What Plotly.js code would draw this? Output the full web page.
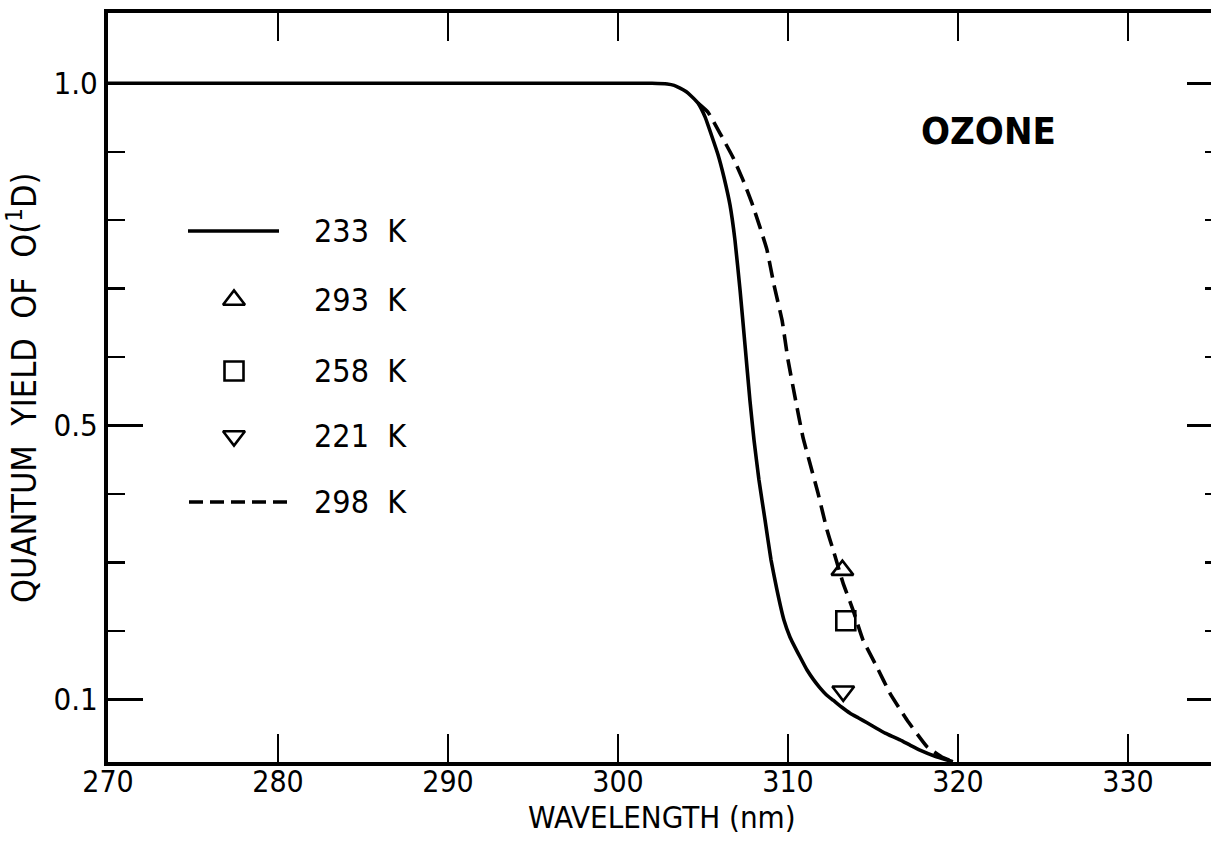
<!DOCTYPE html>
<html>
<head>
<meta charset="utf-8">
<script src="https://cdn.plot.ly/plotly-3.0.1.min.js"></script>
<style>
html,body{margin:0;padding:0;overflow:hidden;background:#fff;width:1211px;height:846px}
#chart{width:1240px;height:846px}
</style>
</head>
<body>
<div id="chart"></div>
<script>
// ---- data ----
const wavelength233 = [270, 280, 290, 300, 302.0, 302.9, 303.3, 303.65, 304.0, 304.24, 304.71, 305.12, 305.53, 305.88, 306.24, 306.59, 306.88, 307.18, 307.47, 307.76, 308.0, 308.29, 308.65, 309.0, 309.35, 309.76, 310.12, 310.71, 311.12, 311.5, 311.88, 312.25, 312.65, 313.15, 313.65, 314.15, 314.65, 315.2, 315.71, 316.59, 317.2, 317.76, 318.65, 319.7];
const yield233 = [1.0, 1.0, 1.0, 1.0, 1.0, 0.999, 0.997, 0.993, 0.988, 0.983, 0.971, 0.951, 0.922, 0.896, 0.862, 0.822, 0.771, 0.698, 0.618, 0.537, 0.479, 0.421, 0.362, 0.304, 0.260, 0.216, 0.191, 0.162, 0.143, 0.129, 0.117, 0.107, 0.099, 0.089, 0.080, 0.073, 0.066, 0.058, 0.051, 0.041, 0.033, 0.026, 0.017, 0.009];

const wavelength298 = [304.71, 305.29, 306.0, 306.76, 307.35, 307.88, 308.35, 308.76, 309.18, 309.65, 310.0, 310.41, 310.88, 311.29, 311.76, 312.29, 312.76, 313.24, 313.82, 314.41, 315.24, 316.0, 317.0, 318.18, 319.12, 319.8];
const yield298 = [0.971, 0.958, 0.927, 0.892, 0.859, 0.825, 0.790, 0.757, 0.705, 0.654, 0.596, 0.542, 0.483, 0.445, 0.402, 0.348, 0.310, 0.270, 0.231, 0.187, 0.147, 0.109, 0.070, 0.031, 0.015, 0.009];

const pointLabels = ['293 K', '258 K', '221 K'];
const pointWavelength = [313.2, 313.4, 313.25];
const pointYield = [0.289, 0.215, 0.112];
const pointSymbols = ['triangle-up-open', 'square-open', 'triangle-down-open'];

const xTickVals = [270, 280, 290, 300, 310, 320, 330];
const xTickText = ['270', '280', '290', '300', '310', '320', '330'];
const yMajorVals = [0.1, 0.5, 1.0];
const yMajorText = ['0.1', '0.5', '1.0'];
const yMinorVals = [0.2, 0.3, 0.4, 0.6, 0.7, 0.8, 0.9];

const legendLabels = ['233 K', '293 K', '258 K', '221 K', '298 K'];

// ---- layout geometry (pixels) ----
const FONT = 'DejaVu Sans Condensed, DejaVu Sans, sans-serif';
const W = 1240, H = 846;
const PL = 108, PR = 1222, PT = 13, PB = 762;
const NBSP = '\u00A0';
const px2paperX = px => (px - PL) / (PR - PL);
const px2paperY = py => (PB - py) / (PB - PT);

const dash = '17px,8px';
const lw = 3.6;
const markerSize = 19;

const traces = [
  {x: wavelength233, y: yield233, mode: 'lines', line: {color: '#000', width: lw, shape: 'spline', smoothing: 0.35}, name: legendLabels[0], hoverinfo: 'skip'},
  {x: wavelength298, y: yield298, mode: 'lines', line: {color: '#000', width: lw, dash: dash, shape: 'spline', smoothing: 0.35}, name: legendLabels[4], hoverinfo: 'skip'}
];
pointLabels.forEach((lab, i) => {
  traces.push({x: [pointWavelength[i]], y: [pointYield[i]], mode: 'markers', name: lab,
    marker: {symbol: pointSymbols[i], size: markerSize, color: '#000', line: {width: 2.6, color: '#000'}}});
});

// legend glyphs on a pixel-like overlay axis pair
const legRowY = [231, 300, 371, 436, 502];
const legGlyphX = 234;
traces.push({x: [188, 279], y: [legRowY[0], legRowY[0]], xaxis: 'x2', yaxis: 'y2', mode: 'lines', line: {color: '#000', width: lw}, hoverinfo: 'skip'});
traces.push({x: [189, 290], y: [legRowY[4], legRowY[4]], xaxis: 'x2', yaxis: 'y2', mode: 'lines', line: {color: '#000', width: lw, dash: '14px,7px'}, hoverinfo: 'skip'});
pointSymbols.forEach((s, i) => {
  traces.push({x: [legGlyphX], y: [legRowY[i + 1]], xaxis: 'x2', yaxis: 'y2', mode: 'markers',
    marker: {symbol: s, size: markerSize, color: '#000', line: {width: 2.6, color: '#000'}}, hoverinfo: 'skip'});
});

const annotations = legendLabels.map((lab, i) => ({
  xref: 'x2', yref: 'y2', x: 312, y: legRowY[i], xanchor: 'left', yanchor: 'middle',
  text: lab.replace(' ', NBSP + NBSP), showarrow: false, font: {family: FONT, size: 32, color: '#000'}
}));
annotations.push({xref: 'x2', yref: 'y2', x: 988, y: 131, xanchor: 'center', yanchor: 'middle',
  text: '<b>OZONE</b>', showarrow: false, font: {family: FONT, size: 38, color: '#000'}});
// y-axis title
const SP2 = NBSP + NBSP;
annotations.push({xref: 'paper', yref: 'paper', x: px2paperX(22), y: px2paperY(388),
  xanchor: 'center', yanchor: 'middle', textangle: -90,
  text: 'QUANTUM' + SP2 + 'YIELD' + SP2 + 'OF' + SP2 + 'O(<sup>1</sup>D)', showarrow: false,
  font: {family: FONT, size: 34, color: '#000'}});
// x-axis title
annotations.push({xref: 'paper', yref: 'paper', x: px2paperX(662), y: px2paperY(817),
  xanchor: 'center', yanchor: 'middle',
  text: 'WAVELENGTH (nm)', showarrow: false,
  font: {family: FONT, size: 31, color: '#000'}});

const layout = {
  width: W, height: H,
  margin: {l: PL, r: W - PR, t: PT, b: H - PB, pad: 0},
  paper_bgcolor: '#fff', plot_bgcolor: '#fff',
  showlegend: false,
  font: {family: FONT, size: 30, color: '#000'},
  xaxis: {
    range: [270, 270 + (PR - PL) / 17.0], tickmode: 'array', tickvals: xTickVals, ticktext: xTickText,
    ticks: 'inside', ticklen: 28, tickwidth: 2.5, tickcolor: '#000',
    showline: true, linecolor: '#000', linewidth: 4, mirror: 'ticks', showgrid: false, zeroline: false,
    ticklabelstandoff: -10,
    tickfont: {family: FONT, size: 30, color: '#000'}
  },
  yaxis: {
    range: [0.0087, 1.1027], tickmode: 'array', tickvals: yMajorVals, ticktext: yMajorText,
    ticks: 'inside', ticklen: 35, tickwidth: 2.5, tickcolor: '#000',
    minor: {tickmode: 'array', tickvals: yMinorVals, ticks: 'inside', ticklen: 17, tickwidth: 2.5, tickcolor: '#000', showgrid: false},
    showline: true, linecolor: '#000', linewidth: 4, mirror: 'ticks', showgrid: false, zeroline: false,
    tickfont: {family: FONT, size: 31, color: '#000'}
  },
  xaxis2: {overlaying: 'x', anchor: 'y2', range: [PL, PR], visible: false, fixedrange: true},
  yaxis2: {overlaying: 'y', anchor: 'x2', range: [PB, PT], visible: false, fixedrange: true},
  annotations: annotations
};

Plotly.newPlot('chart', traces, layout, {displayModeBar: false, staticPlot: true});
</script>
</body>
</html>
